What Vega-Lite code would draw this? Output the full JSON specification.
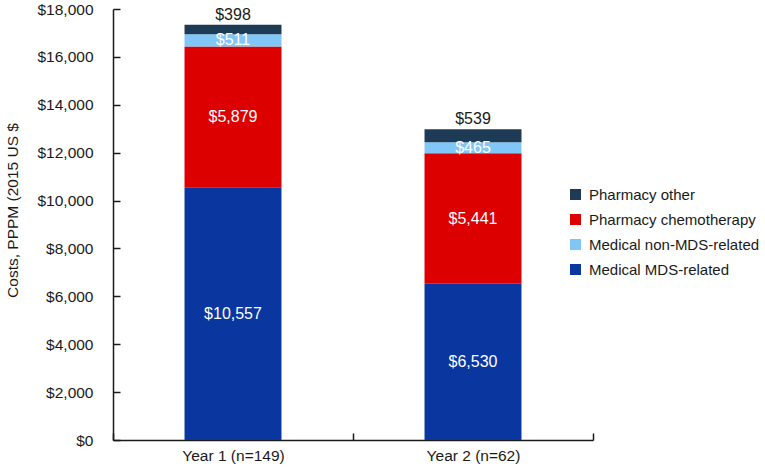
{
  "$schema": "https://vega.github.io/schema/vega-lite/v6.json",
  "autosize": "none",
  "width": 480,
  "height": 431,
  "padding": {"left": 113, "top": 9, "right": 172, "bottom": 27},
  "background": "white",
  "config": {
    "font": "Liberation Sans",
    "view": {"stroke": null},
    "axis": {"labelFont": "Liberation Sans", "titleFont": "Liberation Sans", "labelColor": "#1a1a1a", "titleColor": "#1a1a1a", "domainColor": "#1a1a1a", "tickColor": "#1a1a1a", "grid": false, "labelFontSize": 15.5, "titleFontSize": 15.5, "titleFontWeight": "normal", "domainWidth": 1.5, "tickWidth": 1.5}
  },
  "data": {
    "values": [
      {"year": "Year 1 (n=149)", "category": "Medical MDS-related", "value": 10557, "order": 1},
      {"year": "Year 1 (n=149)", "category": "Pharmacy chemotherapy", "value": 5879, "order": 2},
      {"year": "Year 1 (n=149)", "category": "Medical non-MDS-related", "value": 511, "order": 3},
      {"year": "Year 1 (n=149)", "category": "Pharmacy other", "value": 398, "order": 4},
      {"year": "Year 2 (n=62)", "category": "Medical MDS-related", "value": 6530, "order": 1},
      {"year": "Year 2 (n=62)", "category": "Pharmacy chemotherapy", "value": 5441, "order": 2},
      {"year": "Year 2 (n=62)", "category": "Medical non-MDS-related", "value": 465, "order": 3},
      {"year": "Year 2 (n=62)", "category": "Pharmacy other", "value": 539, "order": 4}
    ]
  },
  "transform": [
    {"stack": "value", "groupby": ["year"], "sort": [{"field": "order", "order": "ascending"}], "as": ["y0", "y1"]},
    {"calculate": "(datum.y0 + datum.y1) / 2", "as": "mid"}
  ],
  "encoding": {
    "x": {
      "field": "year", "type": "nominal", "sort": null,
      "scale": {"paddingInner": 0, "paddingOuter": 0},
      "axis": {"title": null, "labelAngle": 0, "tickBand": "extent", "tickSize": -7, "labelPadding": 15}
    }
  },
  "layer": [
    {
      "mark": {"type": "bar", "width": {"band": 0.404}},
      "encoding": {
        "y": {
          "field": "y0", "type": "quantitative",
          "scale": {"domain": [0, 18000], "nice": false},
          "axis": {"title": "Costs, PPPM (2015 US $", "format": "$,d", "values": [0, 2000, 4000, 6000, 8000, 10000, 12000, 14000, 16000, 18000], "tickSize": -7, "labelPadding": 27, "titleAngle": -90, "titleX": -101, "titleY": 201, "titleAlign": "center", "titleBaseline": "middle"}
        },
        "y2": {"field": "y1"},
        "color": {
          "field": "category", "type": "nominal",
          "scale": {
            "domain": ["Pharmacy other", "Pharmacy chemotherapy", "Medical non-MDS-related", "Medical MDS-related"],
            "range": ["#1e3b56", "#dc0000", "#80c6f6", "#0a36a0"]
          },
          "legend": {
            "title": null, "orient": "none", "legendX": 455, "legendY": 178,
            "symbolType": "square", "symbolSize": 121, "symbolStrokeWidth": 0,
            "labelFontSize": 15, "labelFont": "Liberation Sans", "labelColor": "#1a1a1a", "labelLimit": 0,
            "rowPadding": 9, "labelOffset": 6, "padding": 0
          }
        }
      }
    },
    {
      "transform": [{"filter": "datum.category != 'Pharmacy other'"}],
      "mark": {"type": "text", "color": "white", "fontSize": 16, "baseline": "middle", "align": "center"},
      "encoding": {
        "y": {"field": "mid", "type": "quantitative"},
        "text": {"field": "value", "type": "quantitative", "format": "$,d"}
      }
    },
    {
      "transform": [{"filter": "datum.category == 'Pharmacy other'"}],
      "mark": {"type": "text", "color": "#1a1a1a", "fontSize": 16, "baseline": "bottom", "align": "center", "dy": -2},
      "encoding": {
        "y": {"field": "y1", "type": "quantitative"},
        "text": {"field": "value", "type": "quantitative", "format": "$,d"}
      }
    }
  ]
}
